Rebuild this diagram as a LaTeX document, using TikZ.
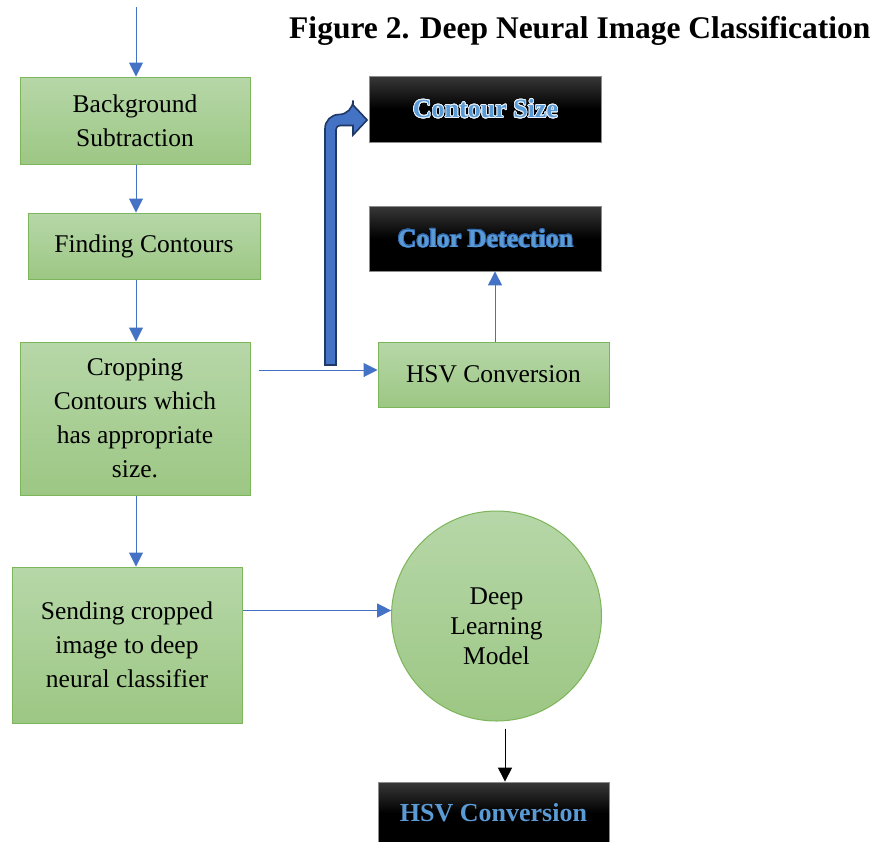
\documentclass[tikz,border=0pt]{standalone}
\usepackage{fontspec}
\setmainfont{Liberation Serif}
\usepackage{contour}
\contournumber{24}
\usepackage{tikz}
\usetikzlibrary{calc,positioning,arrows.meta}
\definecolor{boxgreenT}{HTML}{B6D7A8}
\definecolor{boxgreenB}{HTML}{9DC784}
\definecolor{boxedge}{HTML}{7DB55A}
\definecolor{flowblue}{HTML}{4472C4}
\definecolor{navyedge}{HTML}{1F3864}
\definecolor{labelblue}{HTML}{5B9BD5}
\definecolor{labeldark}{HTML}{2E64A6}

\begin{document}
\begin{tikzpicture}[x=1pt,y=-1pt,
stepbox/.style={rectangle, draw=boxedge, line width=1pt, top color=boxgreenT, bottom color=boxgreenB, minimum width=230pt, align=center, font=\fontsize{25.5}{34}\selectfont, inner sep=0pt},
roundbox/.style={circle, draw=boxedge, line width=1pt, top color=boxgreenT, bottom color=boxgreenB, minimum size=210pt, inner sep=0pt},
darkbox/.style={rectangle, draw=black!45, line width=0.8pt, top color=black!78, bottom color=black, middle color=black, minimum width=232pt, minimum height=65pt, text=labelblue, font=\fontsize{26}{30}\selectfont\bfseries},
flow/.style={draw=flowblue, line width=1pt, -{Triangle[length=14pt,width=14pt]}},
flowk/.style={draw=black, line width=1pt, -{Triangle[length=14pt,width=14pt]}},
blockarrow/.style={fill=flowblue, draw=navyedge, line width=1.6pt, line join=miter}
]
\useasboundingbox (0,0) rectangle (877,841);
\fill[white] (0,0) rectangle (877,841);

%Title
\node[anchor=base east, font=\fontsize{31.5}{34}\selectfont\bfseries] (title) at (874,38)
{Figure 2. Deep Neural Image Classification};

%Nodes
\coordinate (start) at (136,7);
\node[stepbox, minimum height=87pt]   (bgsub) at (135,120.5) {Background\\Subtraction};
\node[stepbox, minimum height=66pt, minimum width=232pt]   (findc) at (144,246) {Finding Contours};
\node[stepbox, minimum height=153pt]  (cropc) at (135,418.5) {Cropping\\Contours which\\has appropriate\\size.};
\node[stepbox, minimum height=156pt]  (sendc) at (127,645) {Sending cropped\\image to deep\\neural classifier};
\node[stepbox, minimum height=65pt, minimum width=231pt]   (hsvg) at (493.5,374.5) {HSV Conversion};
\node[darkbox]  (colord) at (485.5,238.5) {\contourlength{0.7pt}\contour{labeldark}{Color Detection}};
\node[darkbox, minimum height=66pt]  (contsz) at (485.5,109) {\contourlength{0.7pt}\contour{white!85!labelblue}{Contour Size}};
\node[roundbox, label={[yshift=-10pt, align=center, font=\fontsize{25.5}{30}\selectfont]center:Deep\\Learning\\Model}] (dlm) at (496.5,616) {};
\node[darkbox, minimum height=62pt, minimum width=231pt]  (hsvb) at (493.5,813) {HSV Conversion};

%Lines
\draw[flow] (start) -- (bgsub.north -| start);
\draw[flow] (bgsub.south -| start) -- (findc.north -| start);
\draw[flow] (findc.south -| start) -- (cropc.north -| start);
\draw[flow] (cropc.south -| start) -- (sendc.north -| start);
\draw[flow] ([xshift=8pt]cropc.east |- 0,370) -- ([yshift=4.5pt]hsvg.west);
\draw[flow] (hsvg.north -| 495,0) -- (colord.south -| 495,0);
\draw[flow] (sendc.east |- dlm.177) -- (dlm.177);
\draw[flowk] ([xshift=8.5pt,yshift=-7pt]dlm.south) -- (hsvb.north -| 505,0);

%Block arrow
\coordinate (btip) at ([xshift=-2pt,yshift=-11pt]contsz.west);
\filldraw[blockarrow] (325,365) [rounded corners=14pt] -- (325,114.5) -- (353,114.5) [sharp corners] -- (353,105) -- (btip) -- (353,135) -- (353,125.5) [rounded corners=4pt] -- (336,125.5) [sharp corners] -- (336,365) -- cycle;

\end{tikzpicture}
\end{document}
